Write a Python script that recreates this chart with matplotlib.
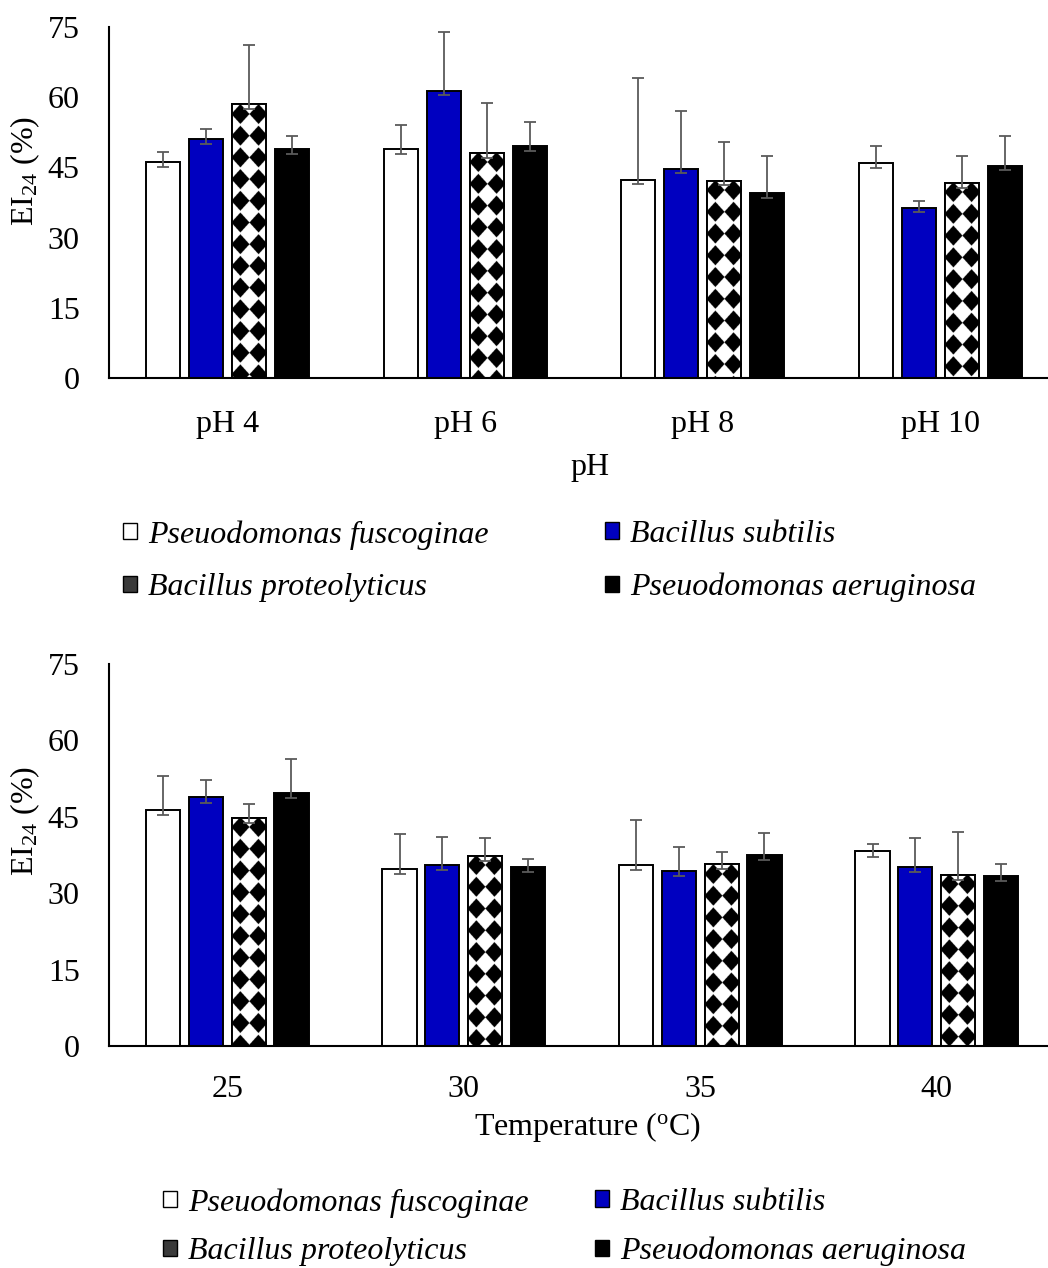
import numpy as np
import matplotlib
matplotlib.use('Agg')
import matplotlib.pyplot as plt
from matplotlib.patches import Patch

plt.rcParams['font.family'] = ['Liberation Serif', 'DejaVu Serif']
plt.rcParams['mathtext.fontset'] = 'custom'
plt.rcParams['mathtext.rm'] = 'Liberation Serif'
plt.rcParams['mathtext.it'] = 'Liberation Serif:italic'

# ---------------- data ----------------
species = ['Pseuodomonas fuscoginae', 'Bacillus subtilis',
           'Bacillus proteolyticus', 'Pseuodomonas aeruginosa']

ph_labels = ['pH 4', 'pH 6', 'pH 8', 'pH 10']
ph_pf = [46.1, 48.9, 42.4, 45.9]
ph_bs = [51.0, 61.4, 44.7, 36.4]
ph_bp = [58.5, 48.1, 42.2, 41.7]
ph_pa = [48.9, 49.6, 39.5, 45.4]
ph_pf_err = [2.1, 5.2, 21.6, 3.6]
ph_bs_err = [2.3, 12.6, 12.3, 1.4]
ph_bp_err = [12.6, 10.7, 8.2, 5.7]
ph_pa_err = [2.9, 5.2, 7.9, 6.3]

temp_labels = ['25', '30', '35', '40']
t_pf = [46.3, 34.7, 35.6, 38.2]
t_bs = [48.8, 35.6, 34.4, 35.2]
t_bp = [44.8, 37.4, 35.7, 33.6]
t_pa = [49.6, 35.2, 37.5, 33.4]
t_pf_err = [6.8, 6.9, 8.7, 1.5]
t_bs_err = [3.5, 5.5, 4.6, 5.7]
t_bp_err = [2.8, 3.5, 2.4, 8.4]
t_pa_err = [6.8, 1.6, 4.4, 2.3]

lower_err = [1.0, 1.0, 1.0, 1.0]

yticks = [0, 15, 30, 45, 60, 75]

# ---------------- style ----------------
FS = 23
BLUE = '#0000C0'
ERRC = '#5a5a5a'
W, H = 1048, 1268

fig = plt.figure(figsize=(W / 100, H / 100), dpi=100)


def px_axes(l, t, r, b):
    return fig.add_axes([l / W, 1 - b / H, (r - l) / W, (b - t) / H])


def checker(ax, rect):
    x, y = rect.get_x(), rect.get_y()
    w, h = rect.get_width(), rect.get_height()
    (x0, y0) = ax.transData.transform((x, y))
    (x1, y1) = ax.transData.transform((x + w, y + h))
    wpx, hpx = x1 - x0, y1 - y0
    s = 4
    nx, ny = int(np.ceil(wpx * s)), int(np.ceil(hpx * s))
    xs = (np.arange(nx) + 0.5) / s
    ys = (np.arange(ny) + 0.5) / s
    P = 21.7
    dy = (ys - 10.0) % P
    dy = np.minimum(dy, P - dy)
    cx = np.array([0.24 * wpx, 0.76 * wpx])
    dx = np.min(np.abs(xs[:, None] - cx[None, :]), axis=1)
    d = dx[None, :] / 9.0 + dy[:, None] / 10.0
    img = np.where(d <= 1, 0.0, 1.0)
    im = ax.imshow(img, cmap='gray', vmin=0, vmax=1,
                   extent=(x, x + w, y, y + h), aspect='auto',
                   interpolation='antialiased', zorder=2.5, origin='upper')
    im.set_clip_path(rect)


def draw(ax, labels, series, errs, xlabel, tickpad, xlabel_y):
    x = np.arange(len(labels))
    ax.set_xlim(-0.5, 3.5)
    ax.set_ylim(0, 75)
    pitch = 0.181
    width = 0.145
    colors = ['white', BLUE, 'white', 'black']
    for i, (vals, err) in enumerate(zip(series, errs)):
        xp = x + (i - 1.5) * pitch
        bars = ax.bar(xp, vals, width=width, color=colors[i],
                      edgecolor='black', linewidth=1.4, zorder=2)
        if i == 2:
            for b in bars:
                checker(ax, b)
            ax.bar(xp, vals, width=width, fill=False,
                   edgecolor='black', linewidth=1.4, zorder=3)
        ax.errorbar(xp, vals, yerr=[lower_err, err], fmt='none',
                    ecolor=ERRC, elinewidth=1.3, capsize=4, capthick=1.3,
                    zorder=4)
    ax.set_xticks(x)
    ax.set_xticklabels(labels)
    ax.set_yticks(yticks)
    ax.tick_params(axis='both', length=0, labelsize=FS)
    ax.tick_params(axis='x', pad=tickpad)
    ax.tick_params(axis='y', pad=21)
    for sp in ['top', 'right']:
        ax.spines[sp].set_visible(False)
    for sp in ['left', 'bottom']:
        ax.spines[sp].set_linewidth(1.5)
        ax.spines[sp].set_color('black')
    ax.set_ylabel('EI$_{24}$ (%)', fontsize=FS)
    ax.yaxis.set_label_coords(-0.0705, 0.59)
    ax.set_xlabel(xlabel, fontsize=FS)
    ax.xaxis.set_label_coords(0.506, xlabel_y)


def add_legend(handles, labels, xpx, ypx, spacing):
    fig.legend(handles, labels, loc='upper left',
               bbox_to_anchor=(xpx / W, 1 - ypx / H),
               bbox_transform=fig.transFigure,
               frameon=False, borderpad=0, borderaxespad=0,
               handlelength=0.43, handleheight=0.43, handletextpad=0.35,
               labelspacing=spacing,
               prop={'family': 'Liberation Serif', 'style': 'italic', 'size': FS})


handles = [Patch(facecolor='white', edgecolor='black', linewidth=1),
           Patch(facecolor=BLUE, edgecolor='black', linewidth=1),
           Patch(facecolor='#3a3a3a', edgecolor='black', linewidth=1),
           Patch(facecolor='black', edgecolor='black', linewidth=1)]

ax1 = px_axes(109, 27, 1059, 378)
draw(ax1, ph_labels, [ph_pf, ph_bs, ph_bp, ph_pa],
     [ph_pf_err, ph_bs_err, ph_bp_err, ph_pa_err], 'pH', 23, -0.2137)

ax2 = px_axes(109, 664, 1055, 1046)
draw(ax2, temp_labels, [t_pf, t_bs, t_bp, t_pa],
     [t_pf_err, t_bs_err, t_bp_err, t_pa_err],
     'Temperature ($^{\\mathrm{o}}$C)', 21, -0.1675)

add_legend([handles[0], handles[2]], [species[0], species[2]], 123, 520, 0.75)
add_legend([handles[1], handles[3]], [species[1], species[3]], 605, 520, 0.75)
add_legend([handles[0], handles[2]], [species[0], species[2]], 163, 1188, 0.62)
add_legend([handles[1], handles[3]], [species[1], species[3]], 595, 1188, 0.62)

fig.savefig('out.png', dpi=100)
